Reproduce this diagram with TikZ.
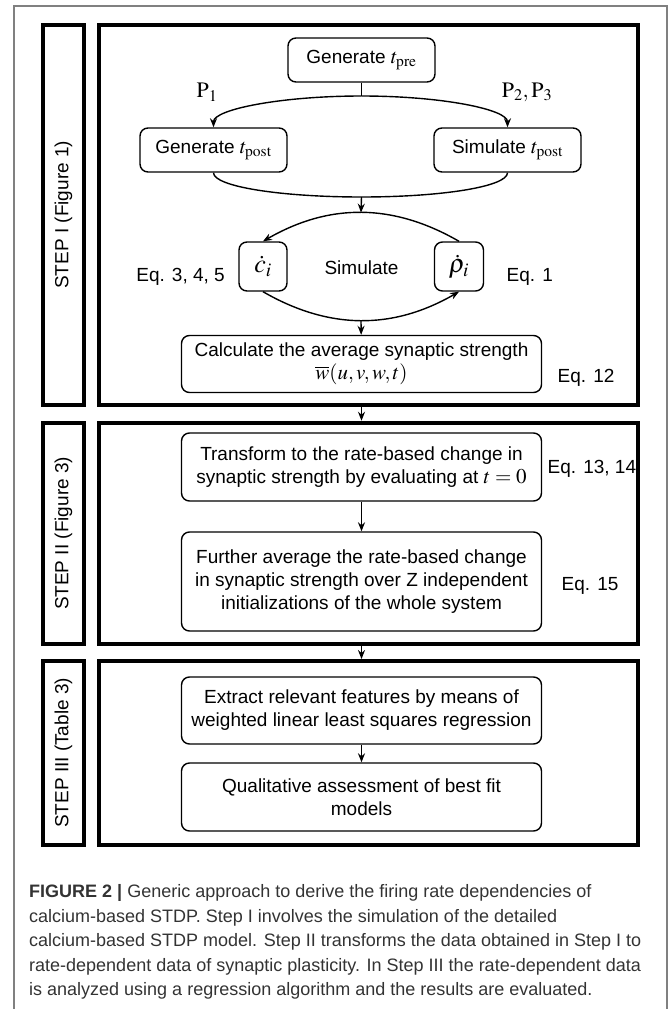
\documentclass[tikz,border=0pt]{standalone}
\usepackage{mathptmx}
\usepackage[no-math]{fontspec}
\setmainfont{Liberation Sans}
\usetikzlibrary{positioning}
\usetikzlibrary{arrows.meta}
\newcommand{\tvar}[1]{{\fontsize{21}{23}\selectfont$t_{\mathrm{#1}}$}}

\begin{document}
\begin{tikzpicture}[x=1pt, y=1pt, >={Stealth[length=9pt,width=7pt]},
    every node/.style={font=\fontsize{19}{23}\selectfont},
    stepbox/.style={draw, line width=4pt, inner sep=0pt},
    taskbox/.style={draw, line width=1.4pt, rounded corners=8pt, align=center, inner sep=0pt},
    wide/.style={taskbox, minimum width=360pt},
    bigmath/.style={font=\fontsize{26}{28}\selectfont},
    link/.style={line width=1.4pt}]
\useasboundingbox (0,0) rectangle (670,-1009);
\draw[black!50, line width=1.2pt] (14,-1020) |- (667,-6) -- (667,-1020);

% step frames
\node[stepbox, rotate=90, minimum width=380.3pt, minimum height=41.3pt] (labI) at (63.4,-214.8) {STEP I (Figure 1)};
\node[stepbox, minimum width=538.7pt, minimum height=380.3pt] (stepI) at (368.7,-214.8) {};
\node[stepbox, rotate=90, minimum width=221.3pt, minimum height=41.3pt] (labII) at (63.4,-533.4) {STEP II (Figure 3)};
\node[stepbox, minimum width=538.7pt, minimum height=221.3pt] (stepII) at (368.7,-533.4) {};
\node[stepbox, rotate=90, minimum width=183.7pt, minimum height=41.3pt] (labIII) at (63.4,-752.9) {STEP III (Table 3)};
\node[stepbox, minimum width=538.7pt, minimum height=183.7pt] (stepIII) at (368.7,-752.9) {};

% step I
\node[taskbox, minimum width=147pt, minimum height=44pt] (pre) at (361.5,-60) {Generate \tvar{pre}};
\node[taskbox, minimum width=147pt, minimum height=44pt] (genpost) at (213.5,-150) {Generate \tvar{post}};
\node[taskbox, minimum width=147pt, minimum height=44pt] (simpost) at (507.5,-150) {Simulate \tvar{post}};
\node[font=\fontsize{22}{26}\selectfont] (p1) at (207,-92) {$\mathrm{P}_1$};
\node[font=\fontsize{22}{26}\selectfont] (p23) at (527,-92) {$\mathrm{P}_2, \mathrm{P}_3$};
\node[taskbox, bigmath, minimum width=48pt, minimum height=49pt] (ci) at (263,-266.5) {$\dot{c}_i$};
\node[taskbox, bigmath, minimum width=49pt, minimum height=49pt] (rho) at (459,-266.5) {$\dot{\rho}_i$};
\node (simlbl) at (361.5,-268) {Simulate};
\node[left=10pt of ci, yshift=-10pt] (eqci) {Eq. 3, 4, 5};
\node[right=19pt of rho, yshift=-10pt] (eqrho) {Eq. 1};
\node[wide, minimum height=57pt] (calc) at (361.5,-364) {Calculate the average synaptic strength\\ {\fontsize{21}{23}\selectfont$\overline{w}(u, v, w, t)$}};
\node[right=12pt of calc, yshift=-14pt] (eqcalc) {Eq. 12};

% step II
\node[wide, minimum height=68pt] (trans) at (361.5,-467) {Transform to the rate-based change in\\ synaptic strength by evaluating at {\fontsize{21}{23}\selectfont$t = 0$}};
\node[right=2pt of trans, yshift=-2pt] (eqtrans) {Eq. 13, 14};
\node[wide, minimum height=99pt] (further) at (361.5,-581.5) {Further average the rate-based change\\ in synaptic strength over Z independent\\ initializations of the whole system};
\node[right=16pt of further, yshift=-4.5pt] (eqfurther) {Eq. 15};

% step III
\node[wide, minimum height=67pt] (extract) at (361.5,-710.5) {Extract relevant features by means of\\ weighted linear least squares regression};
\node[wide, minimum height=68pt] (quali) at (361.5,-797) {Qualitative assessment of best fit\\ models};

% connectors
\coordinate (split) at (361.5,-96);
\coordinate (merge) at (361.5,-197);
\draw[link] (pre) -- (split);
\draw[link,->] (split) .. controls +(-80,0) and +(0,18) .. (genpost.north);
\draw[link,->] (split) .. controls +(80,0) and +(0,18) .. (simpost.north);
\draw[link] (genpost.south) .. controls +(0,-14) and +(-80,0) .. (merge) .. controls +(80,0) and +(0,-14) .. (simpost.south);
\draw[link,->] (rho.north) to[bend right=30] coordinate[midway] (toparc) (ci.north);
\draw[link,->] (merge) -- (toparc);
\draw[link,->] (ci.south) to[bend right=30] coordinate[midway] (botarc) (rho.south);
\draw[link,->] (botarc) -- (calc);
\draw[link,->] (calc |- stepI.south) -- (calc |- stepII.north);
\draw[link,->] (trans) -- (further);
\draw[link,->] (further |- stepII.south) -- (further |- stepIII.north);
\draw[link,->] (extract) -- (quali);

% caption (base = last line)
\node[anchor=base west, align=left, inner sep=0pt, text=black!80, font=\fontsize{18}{24.5}\selectfont] (caption) at (29,-995.5)
  {\textbf{FIGURE 2 |} Generic approach to derive the firing rate dependencies of\\
   calcium-based STDP. Step I involves the simulation of the detailed\\
   calcium-based STDP model. Step II transforms the data obtained in Step I to\\
   rate-dependent data of synaptic plasticity. In Step III the rate-dependent data\\
   is analyzed using a regression algorithm and the results are evaluated.};
\end{tikzpicture}
\end{document}
